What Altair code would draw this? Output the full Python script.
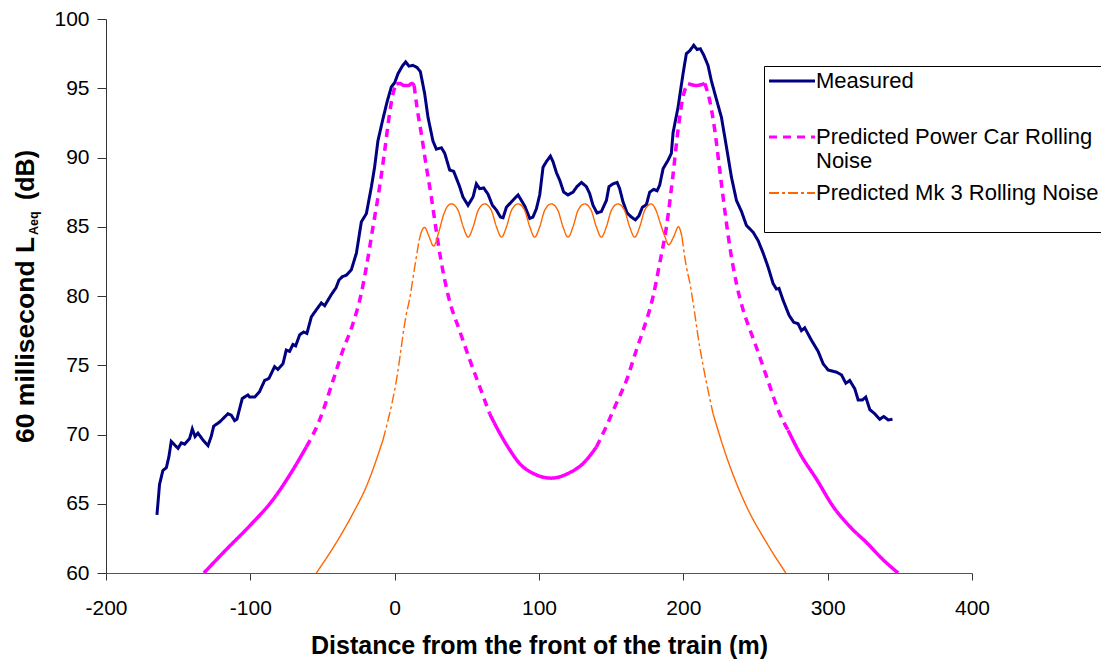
import altair as alt
import pandas as pd

# ---------------- data ----------------
SERIES = ["Measured", "Predicted Power Car Rolling Noise", "Predicted Mk 3 Rolling Noise"]

meas_d = [-164.7, -162.9, -160.6, -158.2, -156.4, -154.8, -150.1, -147.8, -145.5, -142.1,
          -140.2, -138.3, -136.3, -132.8, -129.3, -127.0, -125.4, -121.3, -115.5, -113.2,
          -110.9, -109.3, -105.6, -101.7, -100.5, -97.0, -93.6, -90.1, -87.1, -83.2,
          -80.9, -77.4, -75.1, -72.8, -70.5, -68.6, -65.8, -63.1, -60.8, -57.7,
          -54.3, -50.8, -48.5, -43.9, -40.6, -38.6, -36.2, -33.5, -30.0, -26.5,
          -23.1, -19.6, -16.1, -13.9, -11.6, -8.1, -5.3, -2.3, 0.0, 2.3,
          5.3, 7.6, 9.9, 12.7, 15.5, 17.8, 20.8, 23.1, 26.5, 28.9,
          32.4, 34.7, 38.1, 40.9, 45.0, 47.3, 50.8, 54.3, 56.6, 58.9,
          61.7, 64.7, 67.7, 70.5, 73.3, 75.1, 77.4, 80.9, 85.5, 87.8,
          90.1, 93.6, 95.8, 98.2, 100.5, 102.8, 105.1, 107.9, 109.7, 112.1,
          114.4, 117.1, 120.1, 123.6, 126.3, 129.4, 132.8, 135.1, 137.4, 140.2,
          143.2, 146.7, 148.5, 151.3, 154.1, 155.9, 158.2, 161.0, 164.0, 166.8,
          169.3, 171.6, 174.4, 176.7, 179.5, 181.8, 183.6, 186.0, 189.4, 191.7,
          192.9, 196.3, 199.8, 202.1, 204.4, 207.2, 209.5, 211.8, 214.1, 217.1,
          219.4, 222.4, 226.4, 229.9, 233.3, 236.8, 240.3, 243.7, 248.4, 251.8,
          255.3, 258.7, 262.2, 264.5, 266.3, 269.1, 273.3, 276.5, 279.5, 281.8,
          284.1, 288.8, 293.4, 296.9, 300.4, 306.2, 309.6, 312.6, 315.3, 318.8,
          321.1, 324.1, 326.4, 329.2, 332.6, 336.1, 338.9, 341.9, 344.9]
meas_db = [64.2, 66.4, 67.4, 67.6, 68.4, 69.5, 69.0, 69.4, 69.3, 69.7,
           70.4, 69.85, 70.1, 69.6, 69.2, 69.9, 70.6, 70.9, 71.5, 71.4,
           71.0, 71.1, 72.6, 72.85, 72.7, 72.7, 73.1, 73.9, 74.05, 74.9,
           74.7, 75.1, 76.1, 76.0, 76.5, 76.4, 77.2, 77.4, 77.3, 78.5,
           79.0, 79.5, 79.3, 80.1, 80.6, 81.15, 81.4, 81.5, 81.9, 83.1,
           85.35, 85.95, 87.9, 89.3, 91.2, 92.8, 94.0, 95.1, 95.4, 96.05,
           96.6, 96.9, 96.6, 96.65, 96.5, 96.2, 94.6, 92.9, 91.2, 90.6,
           90.7, 90.3, 89.1, 89.0, 87.9, 87.15, 86.55, 87.15, 88.1, 87.75,
           87.8, 87.35, 86.55, 86.2, 85.7, 85.65, 86.4, 86.8, 87.3, 86.9,
           86.5, 85.6, 85.7, 86.3, 87.3, 89.3, 89.7, 90.1, 89.7, 88.9,
           88.35, 87.5, 87.3, 87.5, 87.9, 88.2, 87.9, 87.4, 86.55, 86.0,
           86.1, 86.9, 87.9, 88.1, 88.2, 87.75, 86.8, 86.0, 85.7, 85.5,
           85.8, 86.4, 86.6, 87.5, 87.7, 87.6, 88.0, 89.2, 89.8, 90.3,
           91.8, 93.6, 96.05, 97.5, 97.7, 98.1, 97.8, 97.85, 97.4, 96.65,
           95.55, 94.4, 92.9, 90.75, 88.6, 86.9, 86.1, 85.1, 84.6, 84.0,
           83.1, 82.1, 80.9, 80.5, 80.55, 79.7, 78.6, 78.1, 78.0, 77.5,
           77.7, 76.8, 76.0, 75.1, 74.65, 74.5, 74.3, 73.7, 73.9, 73.3,
           72.5, 72.5, 72.7, 71.8, 71.5, 71.1, 71.3, 71.05, 71.1]

pc_d = [-132.2, -116.6, -100.5, -84.3, -70.5, -61.2, -52.0, -42.7, -35.8, -28.9,
        -23.1, -19.6, -15.0, -10.4, -6.9, -3.9, -1.2, 1.2, 3.5, 6.5,
        9.5, 12.0, 13.5, 15.5, 18.5, 22.0, 25.4, 28.4, 31.7, 34.7,
        37.4, 45.0, 52.0, 58.9, 65.8, 72.8, 79.7, 86.6, 95.8, 108.6,
        121.3, 130.5, 139.8, 146.7, 153.6, 160.6, 167.5, 172.1, 179.0, 183.6,
        188.3, 192.9, 196.3, 199.8, 203.3, 206.0, 209.0, 212.0, 214.8, 218.3,
        221.8, 225.2, 228.7, 232.2, 236.8, 241.4, 246.0, 250.6, 257.6, 266.8,
        272.6, 280.7, 292.7, 303.8, 315.3, 326.9, 338.4, 348.8]
pc_db = [60.0, 61.7, 63.4, 65.3, 67.45, 69.1, 71.05, 73.9, 76.1, 78.0,
         80.2, 82.1, 85.0, 87.9, 90.5, 92.9, 94.6, 95.3, 95.35, 95.2,
         95.2, 95.35, 95.2, 93.6, 91.7, 89.3, 87.15, 85.0, 82.8, 81.15,
         79.9, 77.5, 75.4, 73.45, 71.5, 70.1, 68.9, 67.9, 67.2, 66.85,
         67.25, 67.9, 69.1, 70.6, 72.25, 73.9, 76.1, 77.5, 79.95, 82.35,
         85.0, 88.8, 91.96, 94.4, 95.35, 95.25, 95.2, 95.25, 95.35, 94.1,
         91.96, 89.1, 86.2, 83.55, 80.9, 79.0, 77.6, 76.3, 74.2, 71.5,
         70.3, 68.65, 66.7, 64.8, 63.36, 62.2, 60.96, 60.0]

mk_d = [-54.3, -40.4, -28.9, -19.6, -8.1, 1.2, 8.1, 10.4, 13.9, 16.9,
        19.2, 20.8, 23.8, 27.0, 30.5, 34.0, 36.8, 39.4, 43.9, 47.5, 50.9,
        54.4, 57.9, 62.4, 66.9, 70.5, 74.0,
        77.5, 81.0, 85.5, 90.0, 93.6, 97.0,
        100.5, 104.0, 108.5, 113.0, 116.6, 120.1,
        123.6, 127.1, 131.6, 136.1, 139.7, 143.2,
        146.7, 150.2, 154.7, 159.2, 162.8, 166.3,
        169.8, 173.3, 177.8, 181.0, 184.2, 187.2, 189.8, 193.4, 196.6, 199.0,
        202.1, 204.4, 211.4, 220.6, 229.9, 243.8, 257.6, 271.0]
mk_db = [60.0, 62.2, 64.3, 66.25, 69.6, 73.9, 78.7, 79.8, 82.1, 84.0,
         84.8, 84.95, 84.3, 83.6, 84.6, 85.9, 86.5, 86.65, 86.2, 85.0, 84.25,
         85.0, 86.2, 86.65, 86.2, 85.0, 84.25,
         85.0, 86.2, 86.65, 86.2, 85.0, 84.25,
         85.0, 86.2, 86.65, 86.2, 85.0, 84.25,
         85.0, 86.2, 86.65, 86.2, 85.0, 84.25,
         85.0, 86.2, 86.65, 86.2, 85.0, 84.25,
         85.0, 86.2, 86.65, 86.2, 85.2, 84.3, 83.7, 84.3, 85.0, 84.3,
         82.1, 81.0, 76.3, 71.5, 68.4, 64.8, 62.2, 60.0]

x_ticks = [-200, -100, 0, 100, 200, 300, 400]
y_ticks = [60, 65, 70, 75, 80, 85, 90, 95, 100]

COLORS = ["#000080", "#FF00FF", "#FF6600"]
DASHES = [[1, 0], [8, 6], [10, 3, 3, 3]]
WIDTHS = [3, 3.5, 1.4]
FONT = "Liberation Sans"

# ---------------- long table: predicted curves split into steep (dashed) / flat (solid) runs
rows = []


def add_series(name, xs, ys, thresh):
    n = len(xs)
    if thresh is None:
        solid = [True] * (n - 1)
    else:
        solid = [abs((ys[i + 1] - ys[i]) / (xs[i + 1] - xs[i])) < thresh for i in range(n - 1)]
    k = 0
    run = 0
    i = 0
    while i < n - 1:
        j = i
        while j < n - 1 and solid[j] == solid[i]:
            j += 1
        for p in range(i, j + 1):
            rows.append({"series": name, "d": xs[p], "v": ys[p],
                         "run": f"{name}|{run}", "solid": solid[i], "order": k})
            k += 1
        run += 1
        i = j


add_series(SERIES[0], meas_d, meas_db, None)
add_series(SERIES[1], pc_d, pc_db, 0.205)
add_series(SERIES[2], mk_d, mk_db, 0.42)
df = pd.DataFrame(rows)

leg = alt.Legend(
    orient="none", legendX=658, legendY=47, title=None,
    symbolType="M-1,0H3.6", symbolSize=400,
    symbolStrokeWidth=alt.ExprRef(expr="datum.value == 'Predicted Mk 3 Rolling Noise' ? 1.8 : 3"),
    labelFont=FONT, labelFontSize=22, labelColor="black", labelLimit=600, labelOffset=26,
    strokeColor="black", fillColor="white", padding=4, rowPadding=10,
    labelExpr="datum.label == 'Predicted Power Car Rolling Noise' ? ['Predicted Power Car Rolling', 'Noise'] : [datum.label, '']",
)

x_enc = alt.X("d:Q", scale=alt.Scale(domain=[-200, 400], nice=False, zero=False),
              axis=alt.Axis(values=x_ticks, title="Distance from the front of the train (m)",
                            labelExpr="'' + datum.value",
                            titleFont=FONT, titleFontSize=25, titleFontWeight="bold", titleColor="black",
                            titleY=80, titleBaseline="alphabetic",
                            labelFont=FONT, labelFontSize=21, labelColor="black", labelPadding=17,
                            labelFlush=False, labelOverlap=False,
                            tickSize=7, tickColor="#333", domainColor="#555", grid=False))
y_enc = alt.Y("v:Q", scale=alt.Scale(domain=[60, 100], nice=False, zero=False),
              axis=alt.Axis(values=y_ticks, title=None,
                            labelFont=FONT, labelFontSize=21, labelColor="black", labelPadding=8,
                            tickSize=9, tickColor="#333", domainColor="#333", grid=False))
color_enc = alt.Color("series:N", scale=alt.Scale(domain=SERIES, range=COLORS), legend=leg)
dash_enc = alt.condition("datum.solid", alt.value([1, 0]),
                         alt.StrokeDash("series:N", scale=alt.Scale(domain=SERIES, range=DASHES), legend=leg))

base = alt.Chart(df).encode(x=x_enc, y=y_enc, color=color_enc, strokeDash=dash_enc,
                            detail="run:N", order="order:Q")

measured = base.transform_filter(alt.datum.series == SERIES[0]).mark_line(
    interpolate="linear", strokeWidth=WIDTHS[0])
power_car = base.transform_filter(alt.datum.series == SERIES[1]).mark_line(
    interpolate="monotone", strokeWidth=WIDTHS[1])
mk3 = base.transform_filter(alt.datum.series == SERIES[2]).mark_line(
    interpolate="monotone", strokeWidth=WIDTHS[2])

# y axis title with subscript, drawn as rotated text pieces
t_main = alt.Chart(pd.DataFrame({"t": ["60 millisecond L"]})).mark_text(
    angle=270, align="left", baseline="alphabetic", font=FONT, fontSize=26.5, fontWeight="bold", color="black"
).encode(text="t:N", x=alt.value(-72.5), y=alt.value(424))
t_sub = alt.Chart(pd.DataFrame({"t": ["Aeq"]})).mark_text(
    angle=270, align="left", baseline="alphabetic", font=FONT, fontSize=12.5, fontWeight="bold", color="black"
).encode(text="t:N", x=alt.value(-68), y=alt.value(216))
t_unit = alt.Chart(pd.DataFrame({"t": ["(dB)"]})).mark_text(
    angle=270, align="left", baseline="alphabetic", font=FONT, fontSize=25, fontWeight="bold", color="black"
).encode(text="t:N", x=alt.value(-72.5), y=alt.value(181))

chart = alt.layer(measured, power_car, mk3, t_main, t_sub, t_unit).properties(
    width=866, height=554,
    padding={"left": 98, "top": 11, "right": 129, "bottom": 86},
    autosize=alt.AutoSizeParams(type="none"),
).configure_view(stroke=None)

chart.save("out.html", embed_options={"renderer": "svg", "actions": False})
